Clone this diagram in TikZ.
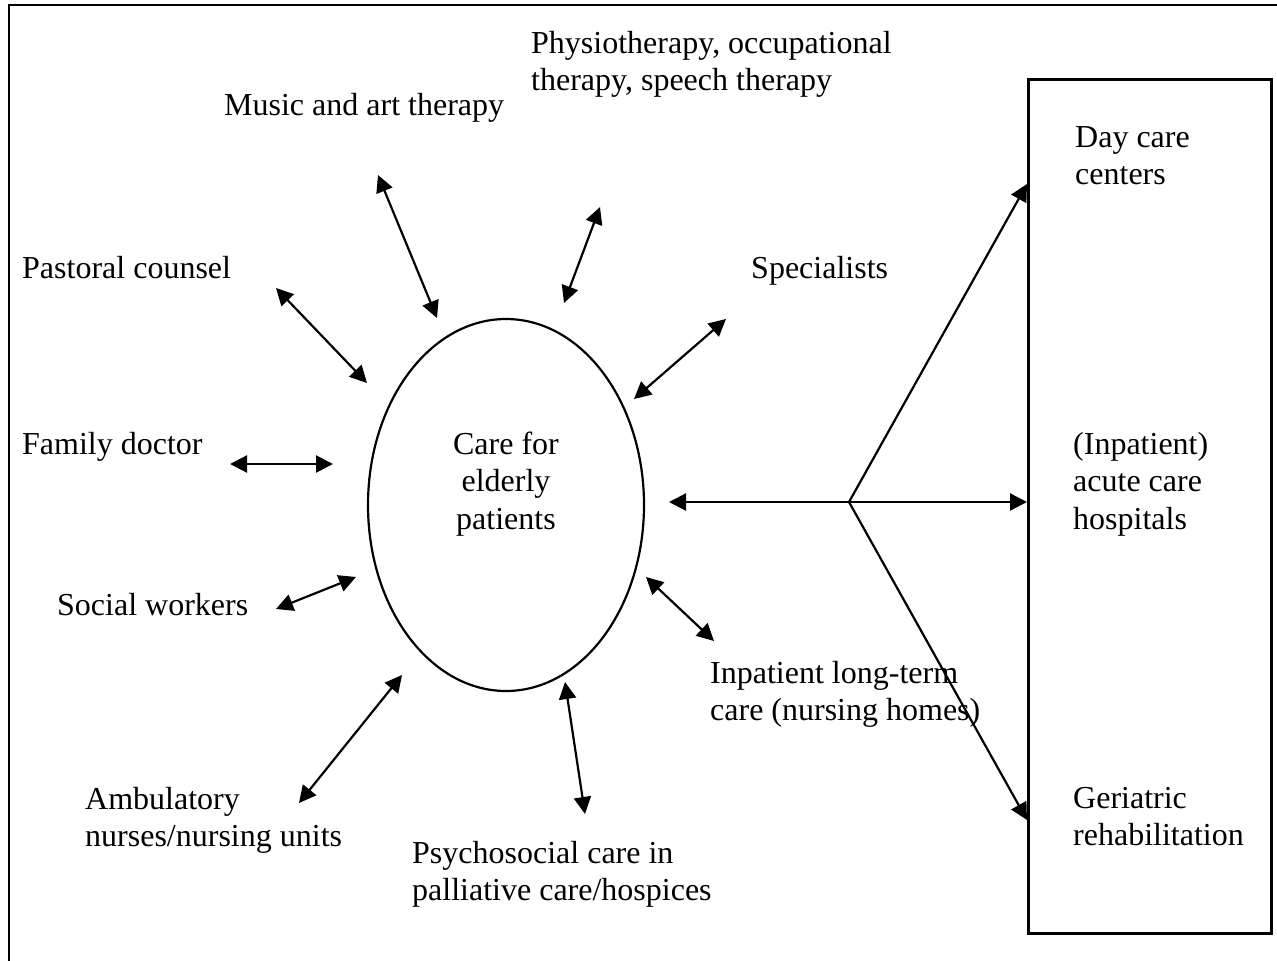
\documentclass[tikz,border=0pt]{standalone}
\usepackage{fontspec}
\setmainfont{Liberation Serif}
\usetikzlibrary{arrows.meta,shapes.geometric}
\begin{document}
\begin{tikzpicture}[x=1pt,y=-1pt,
  lbl/.style={anchor=north west,inner sep=0pt,align=left,font=\fontsize{32}{37.5}\selectfont},
  dbl/.style={line width=2.2pt,{Triangle[length=17pt,width=17pt]}-{Triangle[length=17pt,width=17pt]}},
  sgl/.style={line width=2.2pt,-{Triangle[length=17pt,width=17pt]}}]
\useasboundingbox (0,0) rectangle (1277,961);
% outer frame
\draw[line width=2.5pt] (9,975) -- (9,5) -- (1290,5);
% right box
\node[draw,line width=2.5pt,minimum width=243pt,minimum height=854pt,inner sep=0pt,anchor=north west] (box) at (1027,78) {};
% ellipse
\node[draw,ellipse,line width=2.2pt,minimum width=276pt,minimum height=372pt,inner sep=0pt] (care) at (506,505) {};
\node[align=center,inner sep=0pt,font=\fontsize{32}{37.5}\selectfont] (caretxt) at (506,484) {Care for\\elderly\\patients};
% labels
\node[lbl] (physio) at (531,31) {Physiotherapy, occupational\\therapy, speech therapy};
\node[lbl] (music) at (224,93) {Music and art therapy};
\node[lbl] (day) at (1075,126) {Day care\\centers};
\node[lbl] (past) at (22,256) {Pastoral counsel};
\node[lbl] (spec) at (751,256) {Specialists};
\node[lbl] (fam) at (22,432) {Family doctor};
\node[lbl] (acute) at (1073,432) {(Inpatient)\\acute care\\hospitals};
\node[lbl] (soc) at (57,593) {Social workers};
\node[lbl] (ltc) at (710,661) {Inpatient long-term\\care (nursing homes)};
\node[lbl] (amb) at (85,787) {Ambulatory\\nurses/nursing units};
\node[lbl] (psy) at (412,841) {Psychosocial care in\\palliative care/hospices};
\node[lbl] (ger) at (1073,787) {Geriatric\\rehabilitation};
% arrow end coordinates
\coordinate (m1) at (378,175); \coordinate (m2) at (437,318);
\coordinate (p1) at (600,207); \coordinate (p2) at (564,303);
\coordinate (pc1) at (276,288); \coordinate (pc2) at (367,383);
\coordinate (s1) at (726,319); \coordinate (s2) at (634,399);
\coordinate (f1) at (230,464); \coordinate (f2) at (333,464);
\coordinate (sw1) at (276,609); \coordinate (sw2) at (356,577);
\coordinate (a1) at (299,803); \coordinate (a2) at (402,675);
\coordinate (ps1) at (565,682); \coordinate (ps2) at (585,814);
\coordinate (l1) at (646,577); \coordinate (l2) at (714,641);
\coordinate (h1) at (669,502); \coordinate (br) at (849,502);
\coordinate (hd) at (1027,502); \coordinate (hu) at (1027,184); \coordinate (hg) at (1027,820);
% arrows
\draw[dbl] (m1) -- (m2);
\draw[dbl] (p1) -- (p2);
\draw[dbl] (pc1) -- (pc2);
\draw[dbl] (s1) -- (s2);
\draw[dbl] (f1) -- (f2);
\draw[dbl] (sw1) -- (sw2);
\draw[dbl] (a1) -- (a2);
\draw[dbl] (ps1) -- (ps2);
\draw[dbl] (l1) -- (l2);
\draw[dbl] (h1) -- (hd);
\draw[sgl] (br) -- (hu);
\draw[sgl] (br) -- (hg);
\end{tikzpicture}
\end{document}
